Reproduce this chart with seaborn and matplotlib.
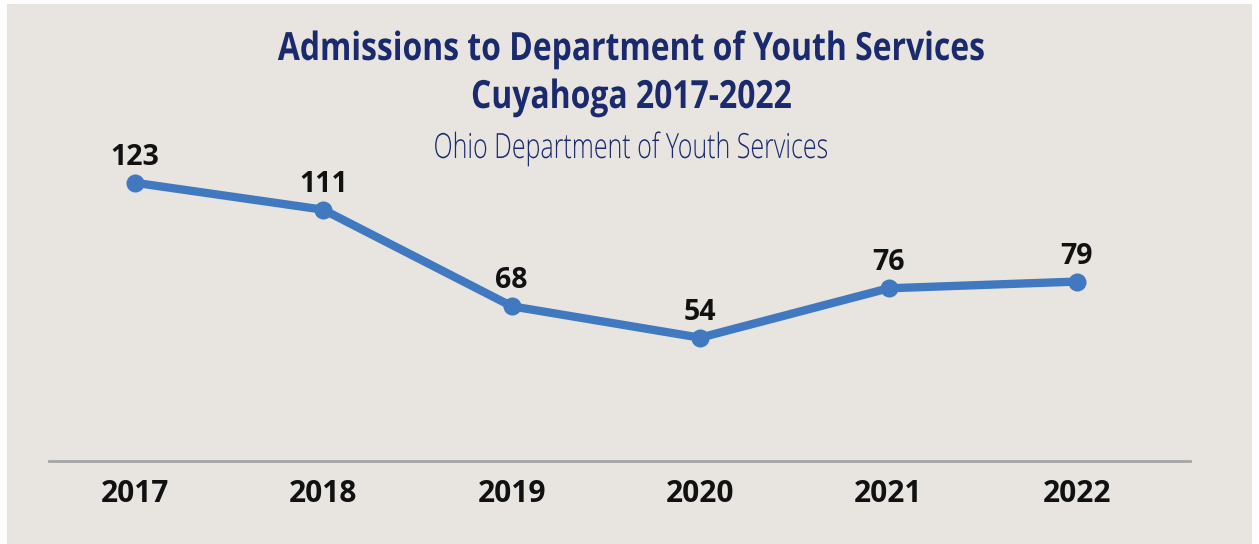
import matplotlib
matplotlib.use("Agg")
import matplotlib.pyplot as plt
import seaborn as sns
import pandas as pd
from matplotlib.patches import Rectangle
from matplotlib.patheffects import AbstractPathEffect
from matplotlib.transforms import Affine2D

years = ["2017", "2018", "2019", "2020", "2021", "2022"]
admissions = [123, 111, 68, 54, 76, 79]

title_lines = ["Admissions to Department of Youth Services", "Cuyahoga 2017-2022"]
subtitle_text = "Ohio Department of Youth Services"

sns.set_theme(style="white")
plt.rcParams['font.family'] = ['Open Sans', 'DejaVu Sans']

W, H = 1259, 544


class Condense(AbstractPathEffect):
    """Horizontally compress glyphs around a centre x (display px)."""
    def __init__(self, cx, sx):
        super().__init__()
        self.cx = cx
        self.sx = sx

    def draw_path(self, renderer, gc, tpath, affine, rgbFace=None):
        aff = affine + Affine2D().translate(-self.cx, 0).scale(self.sx, 1).translate(self.cx, 0)
        renderer.draw_path(gc, tpath, aff, rgbFace)


fig = plt.figure(figsize=(W / 100, H / 100), dpi=100, facecolor="white")
bg = "#E8E5E1"
fig.patches.append(Rectangle((7 / W, 0), (1252 - 7) / W, (H - 4) / H,
                             transform=fig.transFigure, facecolor=bg,
                             edgecolor="none", zorder=-10))

ax = fig.add_axes([49 / W, 83 / H, (1190 - 49) / W, (461 - 146.6) / H])
ax.set_facecolor("none")

df = pd.DataFrame({"year": years, "admissions": admissions})
df["x"] = range(len(years))
line_color = "#4179C0"
sns.lineplot(data=df, x="x", y="admissions", ax=ax, color=line_color,
             linewidth=6, marker="o", markersize=13, markeredgewidth=0,
             legend=False)

for xi, v in zip(df["x"], df["admissions"]):
    ax.annotate(str(v), (xi, v), xytext=(0, 13), textcoords="offset points",
                ha="center", va="baseline", fontsize=20.5, fontweight="bold",
                color="#111111", family=['Open Sans', 'DejaVu Sans'])

ax.set_xlim(-0.456, 5.6)
ax.set_ylim(-0.9, 139.1)
ax.set_xticks(list(df["x"]))
ax.set_xticklabels(years, fontsize=21.5, fontweight="bold", color="#111111")
ax.tick_params(axis="x", length=0, pad=13)
ax.set_yticks([])
ax.set_xlabel("")
ax.set_ylabel("")
for s in ["top", "left", "right"]:
    ax.spines[s].set_visible(False)
ax.spines["bottom"].set_color("#A6A6A6")
ax.spines["bottom"].set_linewidth(2)

cx = 631
navy = "#1A2A6C"
for line, base in zip(title_lines, [60, 108]):
    fig.text(cx / W, 1 - base / H, line, ha="center", va="baseline",
             fontsize=28, fontweight="bold", color=navy,
             family=['Open Sans', 'DejaVu Sans'],
             path_effects=[Condense(cx, 0.82)])
fig.text(cx / W, 1 - 158 / H, subtitle_text, ha="center", va="baseline",
         fontsize=25, fontweight="light", color=navy,
         family=['Open Sans', 'DejaVu Sans'],
         path_effects=[Condense(cx, 0.72)])

fig.savefig("out.png", dpi=100, facecolor="white")
